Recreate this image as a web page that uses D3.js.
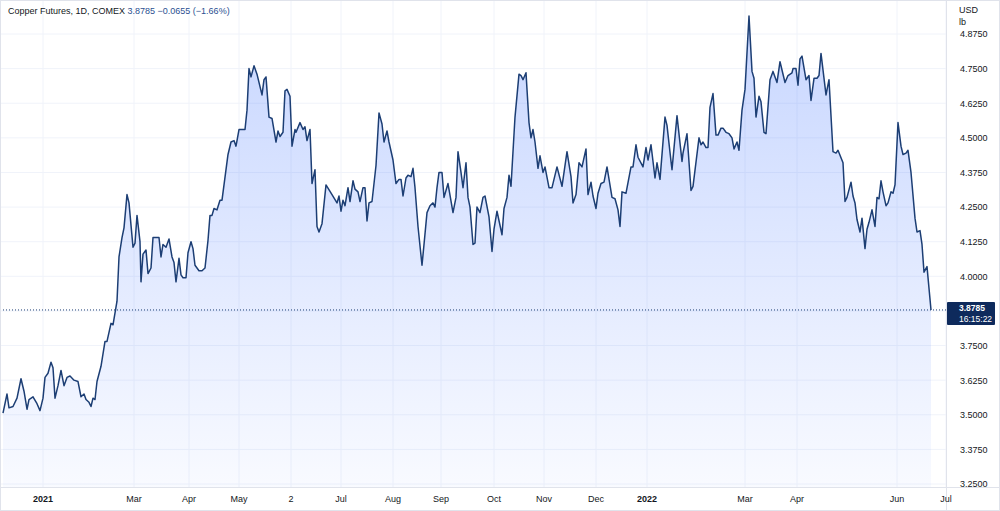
<!DOCTYPE html>
<html><head><meta charset="utf-8">
<script src="https://cdn.jsdelivr.net/npm/d3@7"></script>
<style>
  body { margin: 0; background: #fff; font-family: "Liberation Sans", Arial, sans-serif; }
</style>
</head><body>
<svg id="chart" width="1000" height="511"></svg>
<script>
// time position (chart-time units along the session axis) and close price
var t = [3,7,9,13,17,21,24,27,29,33,37,40,43,45,48,51,53,55,58,61,64,67,70,74,78,81,84,86,89,91,93,95,97,101,105,107,111,113,117,119,122,124,127,129,131,133,135,137,140,141,143,146,148,151,153,156,159,161,163,166,169,172,174,176,179,181,183,186,188,191,193,195,199,202,205,208,210,212,214,217,220,222,224,228,231,234,236,239,242,245,247,249,251,254,257,262,264,266,269,272,276,278,280,283,285,287,290,292,295,296,300,303,305,307,310,312,315,317,319,322,326,332,337,339,341,343,345,348,350,353,355,358,360,363,365,367,369,372,376,379,382,384,387,389,393,396,399,401,403,406,408,411,413,415,418,422,424,427,430,433,435,437,439,442,444,448,453,456,458,461,463,466,468,470,473,475,477,480,483,485,489,492,494,497,502,504,507,509,511,515,519,521,523,526,529,531,533,535,538,540,543,545,549,552,557,562,567,571,573,576,579,582,586,588,591,593,596,598,601,604,607,612,615,618,620,622,626,631,633,636,638,643,646,648,651,655,657,660,665,667,671,672,677,682,683,687,691,693,699,701,703,706,708,710,713,716,718,721,723,726,729,732,734,737,739,742,745,749,752,754,756,759,761,764,766,770,773,777,780,782,785,788,792,793,796,798,800,802,806,809,811,814,817,819,821,826,829,833,836,838,843,845,847,851,853,855,857,860,862,865,867,869,872,875,877,879,881,883,886,888,891,893,895,898,901,903,906,908,911,915,917,920,922,924,927,931];
var price = [3.506,3.575,3.525,3.53,3.56,3.63,3.585,3.52,3.555,3.565,3.54,3.515,3.56,3.635,3.65,3.69,3.67,3.56,3.605,3.66,3.605,3.635,3.64,3.625,3.62,3.565,3.575,3.555,3.545,3.53,3.56,3.555,3.62,3.675,3.765,3.765,3.83,3.825,3.91,4.07,4.14,4.175,4.295,4.265,4.185,4.105,4.12,4.22,4.125,3.98,4.08,4.095,4.01,4.03,4.14,4.14,4.14,4.07,4.115,4.105,4.135,4.07,4.05,3.98,4.065,4.005,3.995,3.995,4.085,4.125,4.1,4.04,4.02,4.02,4.03,4.13,4.22,4.22,4.245,4.24,4.275,4.275,4.33,4.44,4.485,4.49,4.47,4.53,4.53,4.53,4.6,4.75,4.72,4.76,4.73,4.655,4.71,4.72,4.575,4.57,4.485,4.525,4.505,4.52,4.67,4.675,4.65,4.47,4.53,4.52,4.555,4.53,4.54,4.49,4.53,4.335,4.385,4.18,4.16,4.19,4.33,4.295,4.265,4.29,4.235,4.275,4.255,4.32,4.27,4.345,4.315,4.305,4.27,4.32,4.32,4.2,4.265,4.27,4.4,4.59,4.55,4.485,4.525,4.485,4.42,4.335,4.35,4.35,4.29,4.355,4.365,4.36,4.39,4.32,4.18,4.04,4.115,4.23,4.255,4.265,4.25,4.32,4.375,4.375,4.285,4.335,4.23,4.285,4.45,4.375,4.32,4.41,4.285,4.25,4.115,4.12,4.25,4.23,4.285,4.29,4.215,4.09,4.17,4.235,4.15,4.245,4.285,4.365,4.325,4.575,4.73,4.725,4.71,4.735,4.555,4.5,4.53,4.485,4.39,4.435,4.375,4.395,4.32,4.32,4.395,4.325,4.45,4.36,4.265,4.295,4.41,4.395,4.46,4.295,4.34,4.29,4.245,4.3,4.335,4.34,4.395,4.285,4.28,4.24,4.18,4.305,4.3,4.395,4.395,4.475,4.43,4.395,4.465,4.42,4.475,4.355,4.41,4.35,4.575,4.545,4.415,4.385,4.58,4.415,4.445,4.515,4.31,4.325,4.5,4.475,4.485,4.465,4.465,4.61,4.66,4.51,4.51,4.535,4.535,4.52,4.515,4.5,4.46,4.485,4.455,4.6,4.675,4.94,4.74,4.715,4.575,4.65,4.63,4.52,4.515,4.71,4.74,4.7,4.775,4.745,4.7,4.725,4.735,4.75,4.75,4.69,4.785,4.795,4.71,4.725,4.635,4.715,4.715,4.725,4.805,4.655,4.71,4.45,4.445,4.455,4.41,4.27,4.285,4.34,4.29,4.265,4.205,4.16,4.21,4.1,4.17,4.195,4.24,4.18,4.285,4.28,4.345,4.305,4.255,4.265,4.305,4.3,4.33,4.555,4.47,4.44,4.445,4.455,4.375,4.21,4.16,4.165,4.115,4.015,4.035,3.8785];

var monthLabels = ["2021","Mar","Apr","May","2","Jul","Aug","Sep","Oct","Nov","Dec","2022","Mar","Apr","Jun","Jul"];
var monthPos = [43,134,189,239,291,341,393,441,494,544,596,647,745,797,897,946];
var yearLabels = ["2021","2022"];
var priceTicks = [3.25,3.375,3.5,3.625,3.75,3.875,4.0,4.125,4.25,4.375,4.5,4.625,4.75,4.875];
var lastPrice = 3.8785;

var W = 1000, H = 511, plotR = 946, plotB = 487;
var svg = d3.select("#chart");

var x = d3.scaleLinear().domain([0, 946]).range([0, plotR]);
var y = d3.scaleLinear().domain([3.25, 4.875]).range([484, 34]);

// grid
svg.append("g").selectAll("line").data(priceTicks).enter().append("line")
  .attr("x1", 0).attr("x2", plotR)
  .attr("y1", function(d) { return y(d); }).attr("y2", function(d) { return y(d); })
  .attr("stroke", "#f0f3fa");
svg.append("g").selectAll("line").data(monthPos).enter().append("line")
  .attr("x1", function(d) { return x(d); }).attr("x2", function(d) { return x(d); })
  .attr("y1", 0).attr("y2", plotB)
  .attr("stroke", "#f0f3fa");

// area gradient
var grad = svg.append("defs").append("linearGradient")
  .attr("id", "fillg").attr("x1", 0).attr("x2", 0).attr("y1", 0).attr("y2", 1);
grad.append("stop").attr("offset", "0%").attr("stop-color", "#2962ff").attr("stop-opacity", 0.26);
grad.append("stop").attr("offset", "100%").attr("stop-color", "#2962ff").attr("stop-opacity", 0.03);

var pts = t.map(function(d, i) { return [d, price[i]]; });

svg.append("path").datum(pts)
  .attr("fill", "url(#fillg)")
  .attr("d", d3.area()
    .x(function(d) { return x(d[0]); })
    .y0(plotB)
    .y1(function(d) { return y(d[1]); }));

svg.append("path").datum(pts)
  .attr("fill", "none").attr("stroke", "#1c3e74").attr("stroke-width", 1.5)
  .attr("stroke-linejoin", "round")
  .attr("d", d3.line()
    .x(function(d) { return x(d[0]); })
    .y(function(d) { return y(d[1]); }));

// last price dotted line
svg.append("line")
  .attr("x1", 0).attr("x2", plotR)
  .attr("y1", y(lastPrice)).attr("y2", y(lastPrice))
  .attr("stroke", "#1c3e74").attr("stroke-width", 1).attr("stroke-dasharray", "1,2");

// frame
svg.append("line").attr("x1", plotR + 0.5).attr("x2", plotR + 0.5).attr("y1", 0).attr("y2", H)
  .attr("stroke", "#e0e3eb");
svg.append("line").attr("x1", 0).attr("x2", W).attr("y1", plotB + 0.5).attr("y2", plotB + 0.5)
  .attr("stroke", "#e0e3eb");
svg.append("rect").attr("x", 0.5).attr("y", 0.5).attr("width", W - 1).attr("height", H - 1)
  .attr("fill", "none").attr("stroke", "#e0e3eb");

// right axis
var yAxis = d3.axisRight(y).tickValues(priceTicks).tickSize(0).tickPadding(14)
  .tickFormat(d3.format(".4f"));
var ya = svg.append("g").attr("transform", "translate(" + plotR + ",0)").call(yAxis);
ya.select(".domain").remove();
ya.selectAll("text").attr("fill", "#131722").attr("font-size", 9).attr("font-family", "Liberation Sans, Arial, sans-serif");

svg.append("text").attr("x", 959).attr("y", 13).attr("font-size", 9).attr("fill", "#131722").text("USD");
svg.append("text").attr("x", 959).attr("y", 25).attr("font-size", 9).attr("fill", "#131722").text("lb");

// last price label
var lp = svg.append("g").attr("transform", "translate(" + (plotR + 1) + "," + (y(lastPrice) - 8) + ")");
lp.append("rect").attr("width", 48).attr("height", 23).attr("rx", 1).attr("fill", "#0e2a5c");
lp.append("text").attr("x", 12).attr("y", 9).attr("font-size", 8.5).attr("font-weight", "bold").attr("fill", "#fff").text(d3.format(".4f")(lastPrice));
lp.append("text").attr("x", 12).attr("y", 20).attr("font-size", 8.5).attr("fill", "#fff").text("16:15:22");

// bottom axis
svg.append("g").selectAll("text").data(monthLabels).enter().append("text")
  .attr("x", function(d, i) { return x(monthPos[i]); })
  .attr("y", 502)
  .attr("text-anchor", "middle")
  .attr("font-size", 9)
  .attr("font-weight", function(d) { return yearLabels.indexOf(d) >= 0 ? "bold" : "normal"; })
  .attr("fill", "#131722")
  .text(function(d) { return d; });

// header
var hd = svg.append("text").attr("x", 8).attr("y", 14).attr("font-size", 9);
hd.append("tspan").attr("fill", "#131722").text("Copper Futures, 1D, COMEX  ");
hd.append("tspan").attr("fill", "#2c4f91").text("3.8785  \u22120.0655 (\u22121.66%)");
</script>
</body></html>
